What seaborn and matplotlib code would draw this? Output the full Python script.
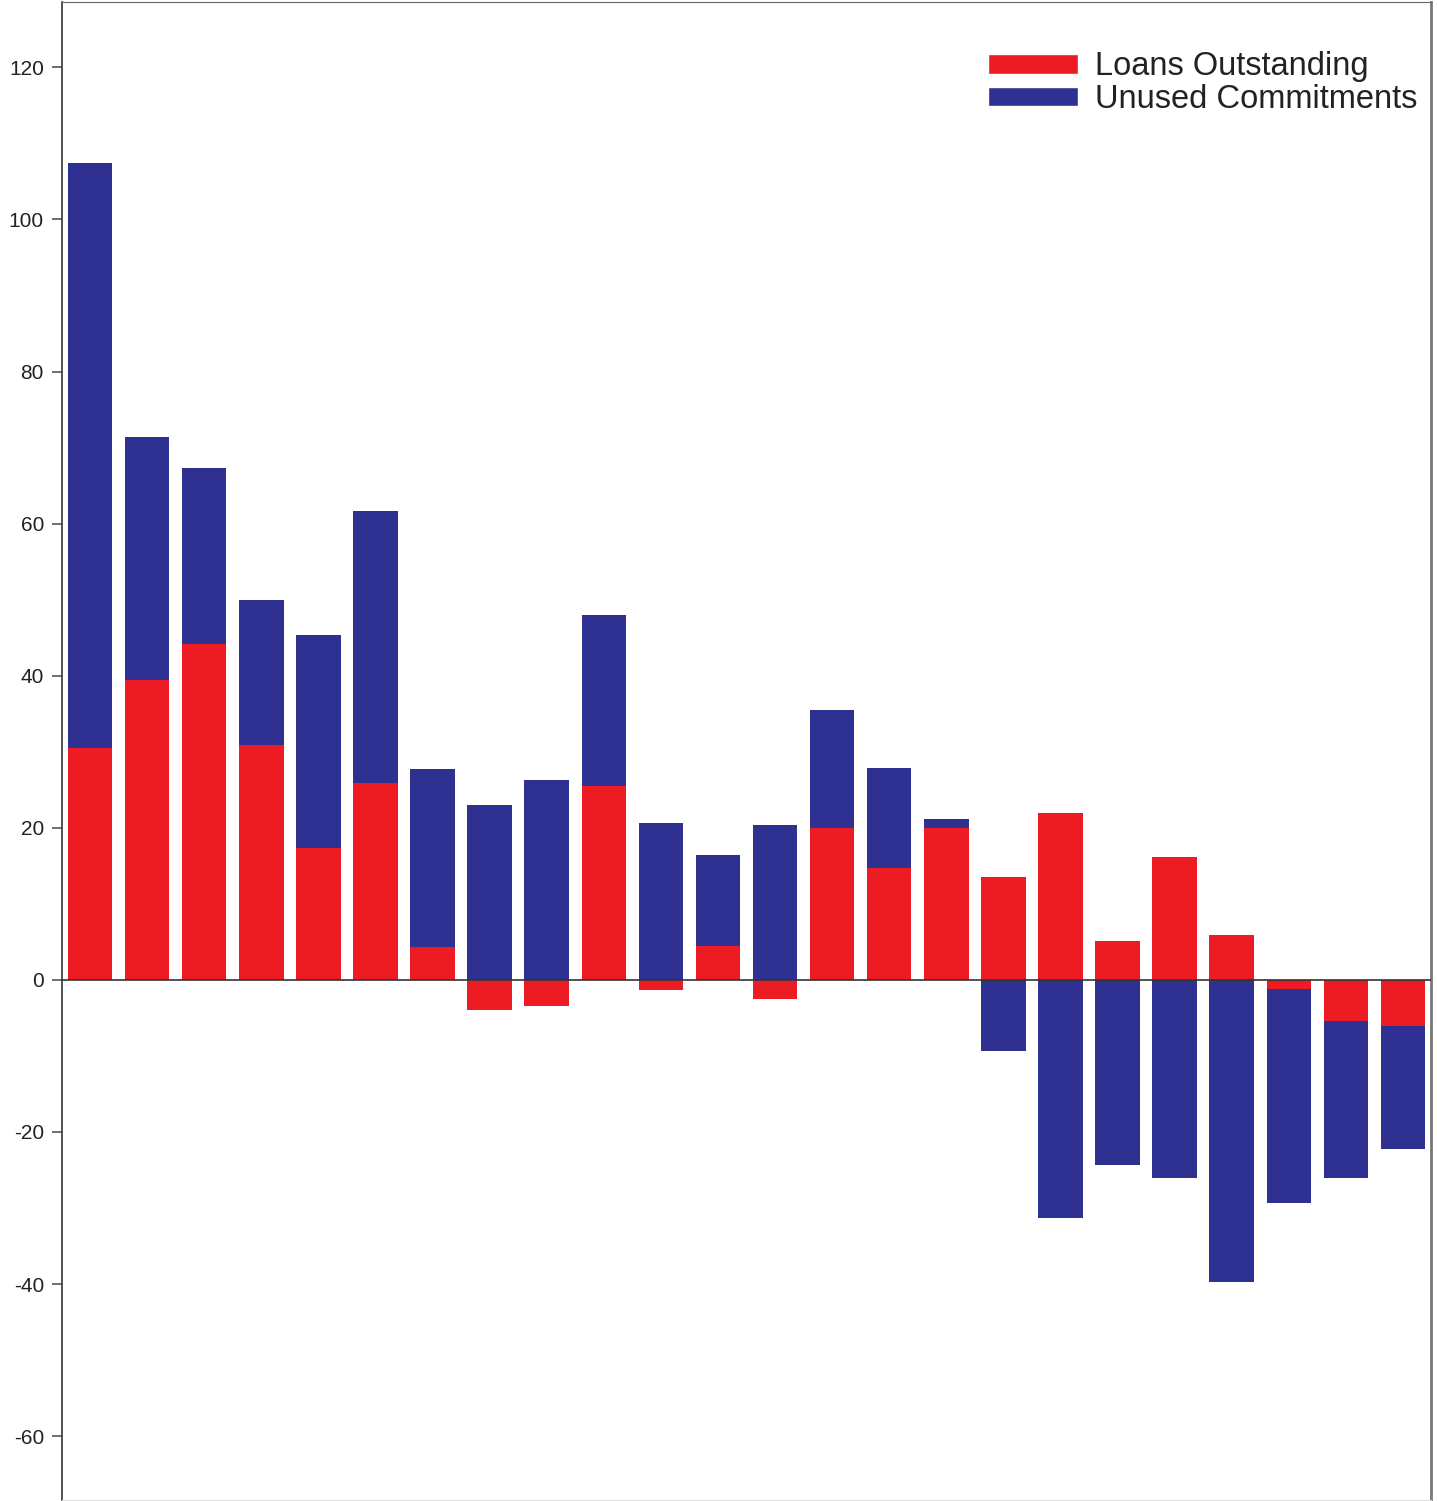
import matplotlib
matplotlib.use('Agg')
import matplotlib.pyplot as plt
import seaborn as sns
import numpy as np
import pandas as pd
from matplotlib.patches import Patch

# values
categories = [f"B{i}" for i in range(1, 25)]
loans = [30.5, 39.4, 44.2, 30.9, 17.4, 25.9, 4.3, -3.9, -3.5, 25.5, -1.3, 4.5,
         -2.5, 20.0, 14.7, 20.0, 13.5, 22.0, 5.1, 16.2, 5.9, -1.2, -5.4, -6.0]
unused = [76.9, 32.0, 23.1, 19.0, 28.0, 35.8, 23.4, 23.0, 26.3, 22.5, 20.6, 11.9,
          20.4, 15.5, 13.2, 1.2, -9.3, -31.3, -24.4, -26.0, -39.7, -28.1, -20.6, -16.3]
y_ticks = [-60, -40, -20, 0, 20, 40, 60, 80, 100, 120]

RED = "#ED1C24"
BLUE = "#2E3192"

df = pd.DataFrame({"cat": categories, "loans": loans, "unused": unused})
# diverging stack: positive parts stack up, negative parts stack down
df["bottom"] = np.where(df["unused"] >= 0, df["loans"].clip(lower=0), df["loans"].clip(upper=0))

sns.set_style("white")
plt.rcParams['font.family'] = ['Liberation Sans', 'DejaVu Sans']

fig = plt.figure(figsize=(14.37, 15.01), dpi=100)
ax = fig.add_axes([62 / 1437, 1 / 1501, (1431 - 62) / 1437, 1498 / 1501])

sns.barplot(data=df, x="cat", y="loans", order=categories, color=RED, saturation=1,
            width=0.78, ax=ax, linewidth=0)
sns.barplot(data=df, x="cat", y="unused", order=categories, color=BLUE, saturation=1,
            width=0.78, ax=ax, linewidth=0, bottom=df["bottom"].to_numpy())

ax.axhline(0, color="#333333", lw=1.2, zorder=5)
ax.set_xlim(-0.49, len(categories) - 0.51)
ax.set_ylim(-68.4, 128.6)
ax.set_yticks(y_ticks)
ax.set_yticklabels([str(t) for t in y_ticks], fontsize=15, color="#222222")
ax.set_xticks([])
ax.set_xlabel("")
ax.set_ylabel("")
ax.tick_params(axis="y", left=True, length=7, width=1.2, color="#555555", pad=6)

ax.spines["left"].set_color("#333333")
ax.spines["left"].set_linewidth(1.2)
ax.spines["top"].set_color("#666666")
ax.spines["right"].set_color("#777777")
ax.spines["right"].set_linewidth(2)
ax.spines["bottom"].set_color("#dddddd")

handles = [Patch(facecolor=RED, label="Loans Outstanding"),
           Patch(facecolor=BLUE, label="Unused Commitments")]
ax.legend(handles=handles, loc="upper right", bbox_to_anchor=(0.9898, 0.967),
          frameon=False, fontsize=23.5, handlelength=2.76, handleheight=0.55,
          handletextpad=0.52, labelspacing=0.05, borderaxespad=0, borderpad=0,
          labelcolor="#222222")

fig.savefig("out.png", dpi=100)
